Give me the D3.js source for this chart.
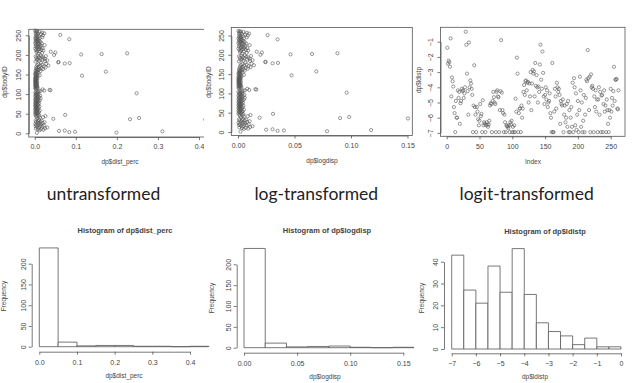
<!DOCTYPE html>
<html>
<head>
<meta charset="utf-8">
<script src="https://cdn.jsdelivr.net/npm/d3@7.9.0/dist/d3.min.js"></script>
<style>
  html, body { margin: 0; padding: 0; background: #fff; }
  svg { display: block; }
  text { font-family: "Liberation Sans", Arial, sans-serif; fill: #444; }
  .tick text { font-size: 7px; }
  .tick line, .domain { stroke: #555; stroke-width: 0.8; }
  .big { font-family: Lato, "Open Sans", sans-serif; font-size: 17.5px; fill: #222; }
</style>
</head>
<body>
<svg id="chart" width="640" height="383"></svg>
<script>
// dp$dist_perc, one value per bodyID (1..262)
const distPerc = [
  0.005, 0.199, 0.084, 0.098, 0.311, 0.059, 0.073, 0.012, 0.021, 0.008,
  0.016, 0.003, 0.025, 0.010, 0.030, 0.006, 0.018, 0.002, 0.013, 0.022,
  0.004, 0.009, 0.015, 0.001, 0.011, 0.019, 0.007, 0.024, 0.003, 0.014,
  0.008, 0.017, 0.002, 0.010, 0.415, 0.232, 0.045, 0.006, 0.254, 0.012,
  0.020, 0.004, 0.009, 0.026, 0.003, 0.011, 0.074, 0.001, 0.007, 0.005,
  0.002, 0.008, 0.004, 0.010, 0.001, 0.006, 0.003, 0.012, 0.005, 0.002,
  0.007, 0.001, 0.004, 0.009, 0.003, 0.006, 0.002, 0.011, 0.005, 0.001,
  0.004, 0.008, 0.002, 0.006, 0.003, 0.010, 0.001, 0.005, 0.007, 0.002,
  0.009, 0.003, 0.006, 0.012, 0.001, 0.004, 0.008, 0.002, 0.014, 0.005,
  0.003, 0.010, 0.006, 0.001, 0.007, 0.013, 0.004, 0.002, 0.009, 0.005,
  0.003, 0.248, 0.006, 0.001, 0.008, 0.004, 0.011, 0.014, 0.023, 0.038,
  0.036, 0.019, 0.002, 0.005, 0.001, 0.007, 0.003, 0.004, 0.002, 0.006,
  0.001, 0.003, 0.005, 0.002, 0.004, 0.001, 0.003, 0.006, 0.002, 0.001,
  0.004, 0.002, 0.005, 0.001, 0.003, 0.002, 0.004, 0.001, 0.006, 0.003,
  0.002, 0.005, 0.001, 0.004, 0.003, 0.007, 0.115, 0.012, 0.002, 0.005,
  0.001, 0.004, 0.003, 0.009, 0.002, 0.006, 0.173, 0.004, 0.014, 0.002,
  0.008, 0.005, 0.011, 0.020, 0.003, 0.016, 0.007, 0.026, 0.010, 0.004,
  0.022, 0.013, 0.033, 0.006, 0.018, 0.009, 0.028, 0.073, 0.085, 0.015,
  0.057, 0.058, 0.002, 0.025, 0.011, 0.030, 0.005, 0.019, 0.008, 0.024,
  0.013, 0.004, 0.021, 0.010, 0.017, 0.002, 0.027, 0.007, 0.014, 0.047,
  0.113, 0.163, 0.009, 0.225, 0.018, 0.050, 0.004, 0.039, 0.012, 0.006,
  0.021, 0.003, 0.016, 0.008, 0.011, 0.001, 0.019, 0.005, 0.013, 0.007,
  0.010, 0.002, 0.015, 0.006, 0.024, 0.003, 0.012, 0.008, 0.017, 0.001,
  0.009, 0.004, 0.014, 0.006, 0.002, 0.011, 0.005, 0.008, 0.003, 0.084,
  0.007, 0.001, 0.012, 0.004, 0.018, 0.006, 0.002, 0.010, 0.005, 0.020,
  0.062, 0.003, 0.015, 0.008, 0.023, 0.002, 0.018, 0.006, 0.011, 0.003,
  0.005, 0.001
];

// dp$logdisp, one value per bodyID
const logDisp = [
  0.0022, 0.0788, 0.0350, 0.0406, 0.1178, 0.0249, 0.0306, 0.0052, 0.0090, 0.0035,
  0.0069, 0.0013, 0.0107, 0.0043, 0.0128, 0.0026, 0.0077, 0.0009, 0.0056, 0.0094,
  0.0017, 0.0039, 0.0065, 0.0004, 0.0048, 0.0082, 0.0030, 0.0103, 0.0013, 0.0060,
  0.0035, 0.0073, 0.0009, 0.0043, 0.1504, 0.0904, 0.0191, 0.0026, 0.0984, 0.0052,
  0.0086, 0.0017, 0.0039, 0.0111, 0.0013, 0.0048, 0.0310, 0.0004, 0.0030, 0.0022,
  0.0009, 0.0035, 0.0017, 0.0043, 0.0004, 0.0026, 0.0013, 0.0052, 0.0022, 0.0009,
  0.0030, 0.0004, 0.0017, 0.0039, 0.0013, 0.0026, 0.0009, 0.0048, 0.0022, 0.0004,
  0.0017, 0.0035, 0.0009, 0.0026, 0.0013, 0.0043, 0.0004, 0.0022, 0.0030, 0.0009,
  0.0039, 0.0013, 0.0026, 0.0052, 0.0004, 0.0017, 0.0035, 0.0009, 0.0060, 0.0022,
  0.0013, 0.0043, 0.0026, 0.0004, 0.0030, 0.0056, 0.0017, 0.0009, 0.0039, 0.0022,
  0.0013, 0.0962, 0.0026, 0.0004, 0.0035, 0.0017, 0.0048, 0.0060, 0.0099, 0.0162,
  0.0154, 0.0082, 0.0009, 0.0022, 0.0004, 0.0030, 0.0013, 0.0017, 0.0009, 0.0026,
  0.0004, 0.0013, 0.0022, 0.0009, 0.0017, 0.0004, 0.0013, 0.0026, 0.0009, 0.0004,
  0.0017, 0.0009, 0.0022, 0.0004, 0.0013, 0.0009, 0.0017, 0.0004, 0.0026, 0.0013,
  0.0009, 0.0022, 0.0004, 0.0017, 0.0013, 0.0030, 0.0474, 0.0052, 0.0009, 0.0022,
  0.0004, 0.0017, 0.0013, 0.0039, 0.0009, 0.0026, 0.0693, 0.0017, 0.0060, 0.0009,
  0.0035, 0.0022, 0.0048, 0.0086, 0.0013, 0.0069, 0.0030, 0.0111, 0.0043, 0.0017,
  0.0094, 0.0056, 0.0141, 0.0026, 0.0077, 0.0039, 0.0119, 0.0306, 0.0354, 0.0065,
  0.0241, 0.0245, 0.0009, 0.0107, 0.0048, 0.0128, 0.0022, 0.0082, 0.0035, 0.0103,
  0.0056, 0.0017, 0.0090, 0.0043, 0.0073, 0.0009, 0.0116, 0.0030, 0.0060, 0.0199,
  0.0465, 0.0655, 0.0039, 0.0880, 0.0077, 0.0212, 0.0017, 0.0166, 0.0052, 0.0026,
  0.0090, 0.0013, 0.0069, 0.0035, 0.0048, 0.0004, 0.0082, 0.0022, 0.0056, 0.0030,
  0.0043, 0.0009, 0.0065, 0.0026, 0.0103, 0.0013, 0.0052, 0.0035, 0.0073, 0.0004,
  0.0039, 0.0017, 0.0060, 0.0026, 0.0009, 0.0048, 0.0022, 0.0035, 0.0013, 0.0350,
  0.0030, 0.0004, 0.0052, 0.0017, 0.0077, 0.0026, 0.0009, 0.0043, 0.0022, 0.0086,
  0.0262, 0.0013, 0.0065, 0.0035, 0.0099, 0.0009, 0.0077, 0.0026, 0.0048, 0.0013,
  0.0022, 0.0004
];

// dp$ldistp, plotted against Index
const lDistp = [
  -1.4, -2.45, -2.25, -2.35, -2.65, -0.78, -4.6, -3.35, -3.6, -3.95,
  -5.3, -5.7, -6.95, -4.9, -6.0, -6.0, -4.2, -4.7, -4.3, -6.4,
  -5.05, -4.9, -4.1, -4.25, -4.2, -4.7, -4.4, -4.0, -0.35, -1.2,
  -3.1, -4.25, -5.8, -1.05, -4.0, -3.55, -3.75, -4.1, -4.5, -6.95,
  -5.2, -2.55, -5.3, -5.8, -6.95, -5.3, -5.6, -6.1, -6.5, -6.2,
  -5.1, -5.9, -5.75, -6.95, -4.85, -6.5, -6.3, -6.4, -6.95, -6.5,
  -6.3, -6.45, -6.6, -6.45, -6.2, -5.2, -5.05, -5.1, -6.95, -4.9,
  -4.3, -4.65, -5.0, -5.1, -6.95, -4.3, -4.2, -4.6, -4.65, -6.95,
  -5.5, -4.25, -0.9, -4.35, -5.5, -5.7, -6.95, -5.8, -6.3, -6.95,
  -6.5, -6.55, -6.6, -6.7, -6.5, -6.95, -6.3, -6.45, -6.2, -6.95,
  -6.6, -6.95, -6.5, -6.95, -4.75, -5.6, -2.05, -3.1, -6.95, -5.7,
  -5.4, -5.4, -6.95, -5.2, -6.0, -5.4, -4.3, -3.85, -4.5, -3.6,
  -3.55, -4.2, -3.7, -3.65, -5.0, -3.75, -4.6, -3.0, -5.5, -3.75,
  -2.85, -3.1, -2.95, -4.6, -2.4, -3.9, -3.2, -4.0, -5.0, -3.95,
  -4.3, -2.5, -1.2, -3.5, -4.1, -1.65, -3.05, -4.6, -5.1, -4.5,
  -4.0, -4.8, -4.2, -5.3, -5.0, -4.9, -4.4, -5.7, -6.0, -6.95,
  -2.4, -6.95, -6.95, -5.6, -4.1, -4.6, -5.4, -3.7, -4.0, -4.3,
  -4.1, -4.5, -6.4, -4.9, -5.1, -5.2, -4.8, -6.95, -5.8, -5.2,
  -6.3, -6.0, -5.1, -6.6, -4.9, -6.95, -5.5, -6.95, -6.0, -5.3,
  -6.6, -3.7, -6.95, -3.4, -4.0, -6.5, -4.4, -6.8, -5.8, -4.9,
  -6.95, -5.5, -3.3, -4.2, -6.6, -5.0, -6.95, -6.2, -4.5, -6.95,
  -5.8, -4.7, -3.5, -3.6, -1.55, -3.4, -5.5, -3.3, -6.95, -3.15,
  -4.0, -3.9, -4.1, -6.95, -4.6, -5.3, -4.2, -5.6, -4.8, -6.95,
  -4.8, -4.0, -5.8, -4.3, -6.95, -4.55, -4.5, -6.95, -5.1, -4.2,
  -5.6, -5.2, -6.95, -4.8, -5.5, -6.4, -6.95, -5.5, -6.0, -4.1,
  -5.6, -4.7, -5.2, -4.25, -2.65, -4.9, -3.5, -3.5, -3.45, -5.4,
  -5.45, -4.2
];

// histogram breaks and counts
const distBreaks = [0, 0.05, 0.1, 0.15, 0.2, 0.25, 0.3, 0.35, 0.4, 0.45];
const distCounts = [238, 11, 2, 3, 3, 1, 1, 0, 1];
const logBreaks = [0, 0.02, 0.04, 0.06, 0.08, 0.1, 0.12, 0.14, 0.16];
const logCounts = [238, 11, 2, 3, 4, 1, 0, 1];
const logitBreaks = [-7, -6.5, -6, -5.5, -5, -4.5, -4, -3.5, -3, -2.5, -2, -1.5, -1, -0.5, 0];
const logitCounts = [43, 27, 21, 38, 26, 46, 25, 12, 8, 6, 2, 5, 1, 1];

// tick values
const distTicks = [0, 0.1, 0.2, 0.3, 0.4];
const logTicks = [0, 0.05, 0.1, 0.15];
const idTicks = [0, 50, 100, 150, 200, 250];
const indexTicks = [0, 50, 100, 150, 200, 250];
const ldistTicks = [-7, -6, -5, -4, -3, -2, -1];
const freqTicks = [0, 50, 100, 150, 200];
const logitXTicks = [-7, -6, -5, -4, -3, -2, -1, 0];
const logitFreqTicks = [0, 10, 20, 30, 40];

const panelTitles = ['untransformed', 'log-transformed', 'logit-transformed'];

const svg = d3.select('#chart');

svg.append('defs').append('clipPath').attr('id', 'clip1')
  .append('rect').attr('x', 0).attr('y', 0).attr('width', 204).attr('height', 180);

// rotate the y tick labels like R does
function rotLabels(g, off) {
  g.selectAll('.tick text')
    .attr('transform', 'rotate(-90)')
    .attr('text-anchor', 'middle')
    .attr('x', 0)
    .attr('y', -off)
    .attr('dy', 0);
}

function vText(x, y, label) {
  svg.append('text')
    .attr('transform', `translate(${x},${y}) rotate(-90)`)
    .attr('text-anchor', 'middle')
    .attr('dy', '0.35em')
    .style('font-size', '6.5px')
    .text(label);
}

function hText(x, y, label, size, bold) {
  svg.append('text')
    .attr('x', x).attr('y', y)
    .attr('text-anchor', 'middle')
    .attr('dy', '0.35em')
    .style('font-size', size + 'px')
    .style('font-weight', bold ? 'bold' : 'normal')
    .text(label);
}

function scatter(p) {
  const g = svg.append('g');
  if (p.clip) g.attr('clip-path', `url(#${p.clip})`);
  const x = d3.scaleLinear().domain(p.xDomain).range(p.xRange);
  const y = d3.scaleLinear().domain(p.yDomain).range(p.yRange);
  const [l, t, r, b] = p.box;

  g.append('rect')
    .attr('x', l).attr('y', t).attr('width', r - l).attr('height', b - t)
    .attr('fill', 'none').attr('stroke', '#555').attr('stroke-width', 0.8);

  g.append('g')
    .attr('transform', `translate(0,${b})`)
    .call(d3.axisBottom(x).tickValues(p.xTicks).tickFormat(p.xFmt)
      .tickSize(3).tickSizeOuter(0).tickPadding(4.5));

  g.append('g')
    .attr('transform', `translate(${l},0)`)
    .call(d3.axisLeft(y).tickValues(p.yTicks).tickFormat(d3.format('d'))
      .tickSize(3).tickSizeOuter(0))
    .call(a => rotLabels(a, 7.5));

  g.selectAll('circle.pt')
    .data(p.points)
    .join('circle')
    .attr('class', 'pt')
    .attr('cx', d => x(d[0]))
    .attr('cy', d => y(d[1]))
    .attr('r', 1.6)
    .attr('fill', 'none')
    .attr('stroke', '#555')
    .attr('stroke-width', 0.6);
}

function hist(p) {
  const g = svg.append('g');
  const x = d3.scaleLinear().domain(p.xDomain).range(p.xRange);
  const y = d3.scaleLinear().domain(p.yDomain).range(p.yRange);

  g.selectAll('path.bar')
    .data(p.counts)
    .join('path')
    .attr('class', 'bar')
    .attr('d', (c, i) => {
      const x0 = x(p.breaks[i]), x1 = x(p.breaks[i + 1]);
      return `M${x0},${y(0)}V${y(c)}H${x1}V${y(0)}Z`;
    })
    .attr('fill', '#fff')
    .attr('stroke', '#555')
    .attr('stroke-width', 0.8);

  g.append('g')
    .attr('transform', `translate(0,${p.xAxisY})`)
    .call(d3.axisBottom(x).tickValues(p.xTicks).tickFormat(p.xFmt)
      .tickSize(3).tickSizeOuter(0).tickPadding(5));

  g.append('g')
    .attr('transform', `translate(${p.yAxisX},0)`)
    .call(d3.axisLeft(y).tickValues(p.yTicks).tickFormat(d3.format('d'))
      .tickSize(3).tickSizeOuter(0))
    .call(a => rotLabels(a, 6));
}

const ids = distPerc.map((_, i) => i + 1);

// top row scatter plots
scatter({
  clip: 'clip1',
  points: distPerc.map((v, i) => [v, ids[i]]),
  xDomain: [0, 0.4], xRange: [34.8, 199],
  yDomain: [0, 250], yRange: [133.3, 35.3],
  box: [28.8, 29.3, 210, 137],
  xTicks: distTicks, xFmt: d3.format('.1f'), yTicks: idTicks
});
scatter({
  points: logDisp.map((v, i) => [v, ids[i]]),
  xDomain: [0, 0.15], xRange: [238, 407.5],
  yDomain: [0, 250], yRange: [132, 35.5],
  box: [231.3, 27.5, 412.3, 135.5],
  xTicks: logTicks, xFmt: d3.format('.2f'), yTicks: idTicks
});
scatter({
  points: lDistp.map((v, i) => [i + 1, v]),
  xDomain: [0, 250], xRange: [446.7, 610.7],
  yDomain: [-7, -1], yRange: [132.9, 41.7],
  box: [440.5, 27.3, 625, 136.3],
  xTicks: indexTicks, xFmt: d3.format('d'), yTicks: ldistTicks
});

// bottom row histograms
hist({
  breaks: distBreaks, counts: distCounts,
  xDomain: [0, 0.4], xRange: [39.3, 190],
  yDomain: [0, 200], yRange: [346.7, 263.7],
  xAxisY: 351.7, yAxisX: 31.7,
  xTicks: distTicks, xFmt: d3.format('.1f'), yTicks: freqTicks
});
hist({
  breaks: logBreaks, counts: logCounts,
  xDomain: [0, 0.15], xRange: [244, 403.3],
  yDomain: [0, 200], yRange: [347.7, 264.3],
  xAxisY: 352.7, yAxisX: 236.7,
  xTicks: logTicks, xFmt: d3.format('.2f'), yTicks: freqTicks
});
hist({
  breaks: logitBreaks, counts: logitCounts,
  xDomain: [-7, 0], xRange: [451.7, 621],
  yDomain: [0, 40], yRange: [349, 261.7],
  xAxisY: 353.3, yAxisX: 444,
  xTicks: logitXTicks, xFmt: d3.format('d'), yTicks: logitFreqTicks
});

// axis titles
vText(4.5, 82, 'dp$bodyID');
vText(208.5, 82, 'dp$bodyID');
vText(419, 80, 'dp$ldistp');
hText(120, 162, 'dp$dist_perc', 6.5);
hText(322, 161, 'dp$logdisp', 6.5);
hText(533, 162, 'Index', 6.5);

vText(3.5, 296, 'Frequency');
vText(212, 298, 'Frequency');
vText(421.7, 298, 'Frequency');
hText(125, 230, 'Histogram of dp$dist_perc', 7.5, true);
hText(327, 230, 'Histogram of dp$logdisp', 7.5, true);
hText(545, 231.5, 'Histogram of dp$ldistp', 7.5, true);
hText(124, 376, 'dp$dist_perc', 6.5);
hText(325, 376.5, 'dp$logdisp', 6.5);
hText(535, 376.5, 'dp$ldistp', 6.5);

// big slide captions
const captionX = [103.5, 316.3, 526.7];
panelTitles.forEach((t, i) => {
  svg.append('text')
    .attr('class', 'big')
    .attr('x', captionX[i]).attr('y', 194)
    .attr('text-anchor', 'middle')
    .attr('dy', '0.35em')
    .text(t);
});
</script>
</body>
</html>
